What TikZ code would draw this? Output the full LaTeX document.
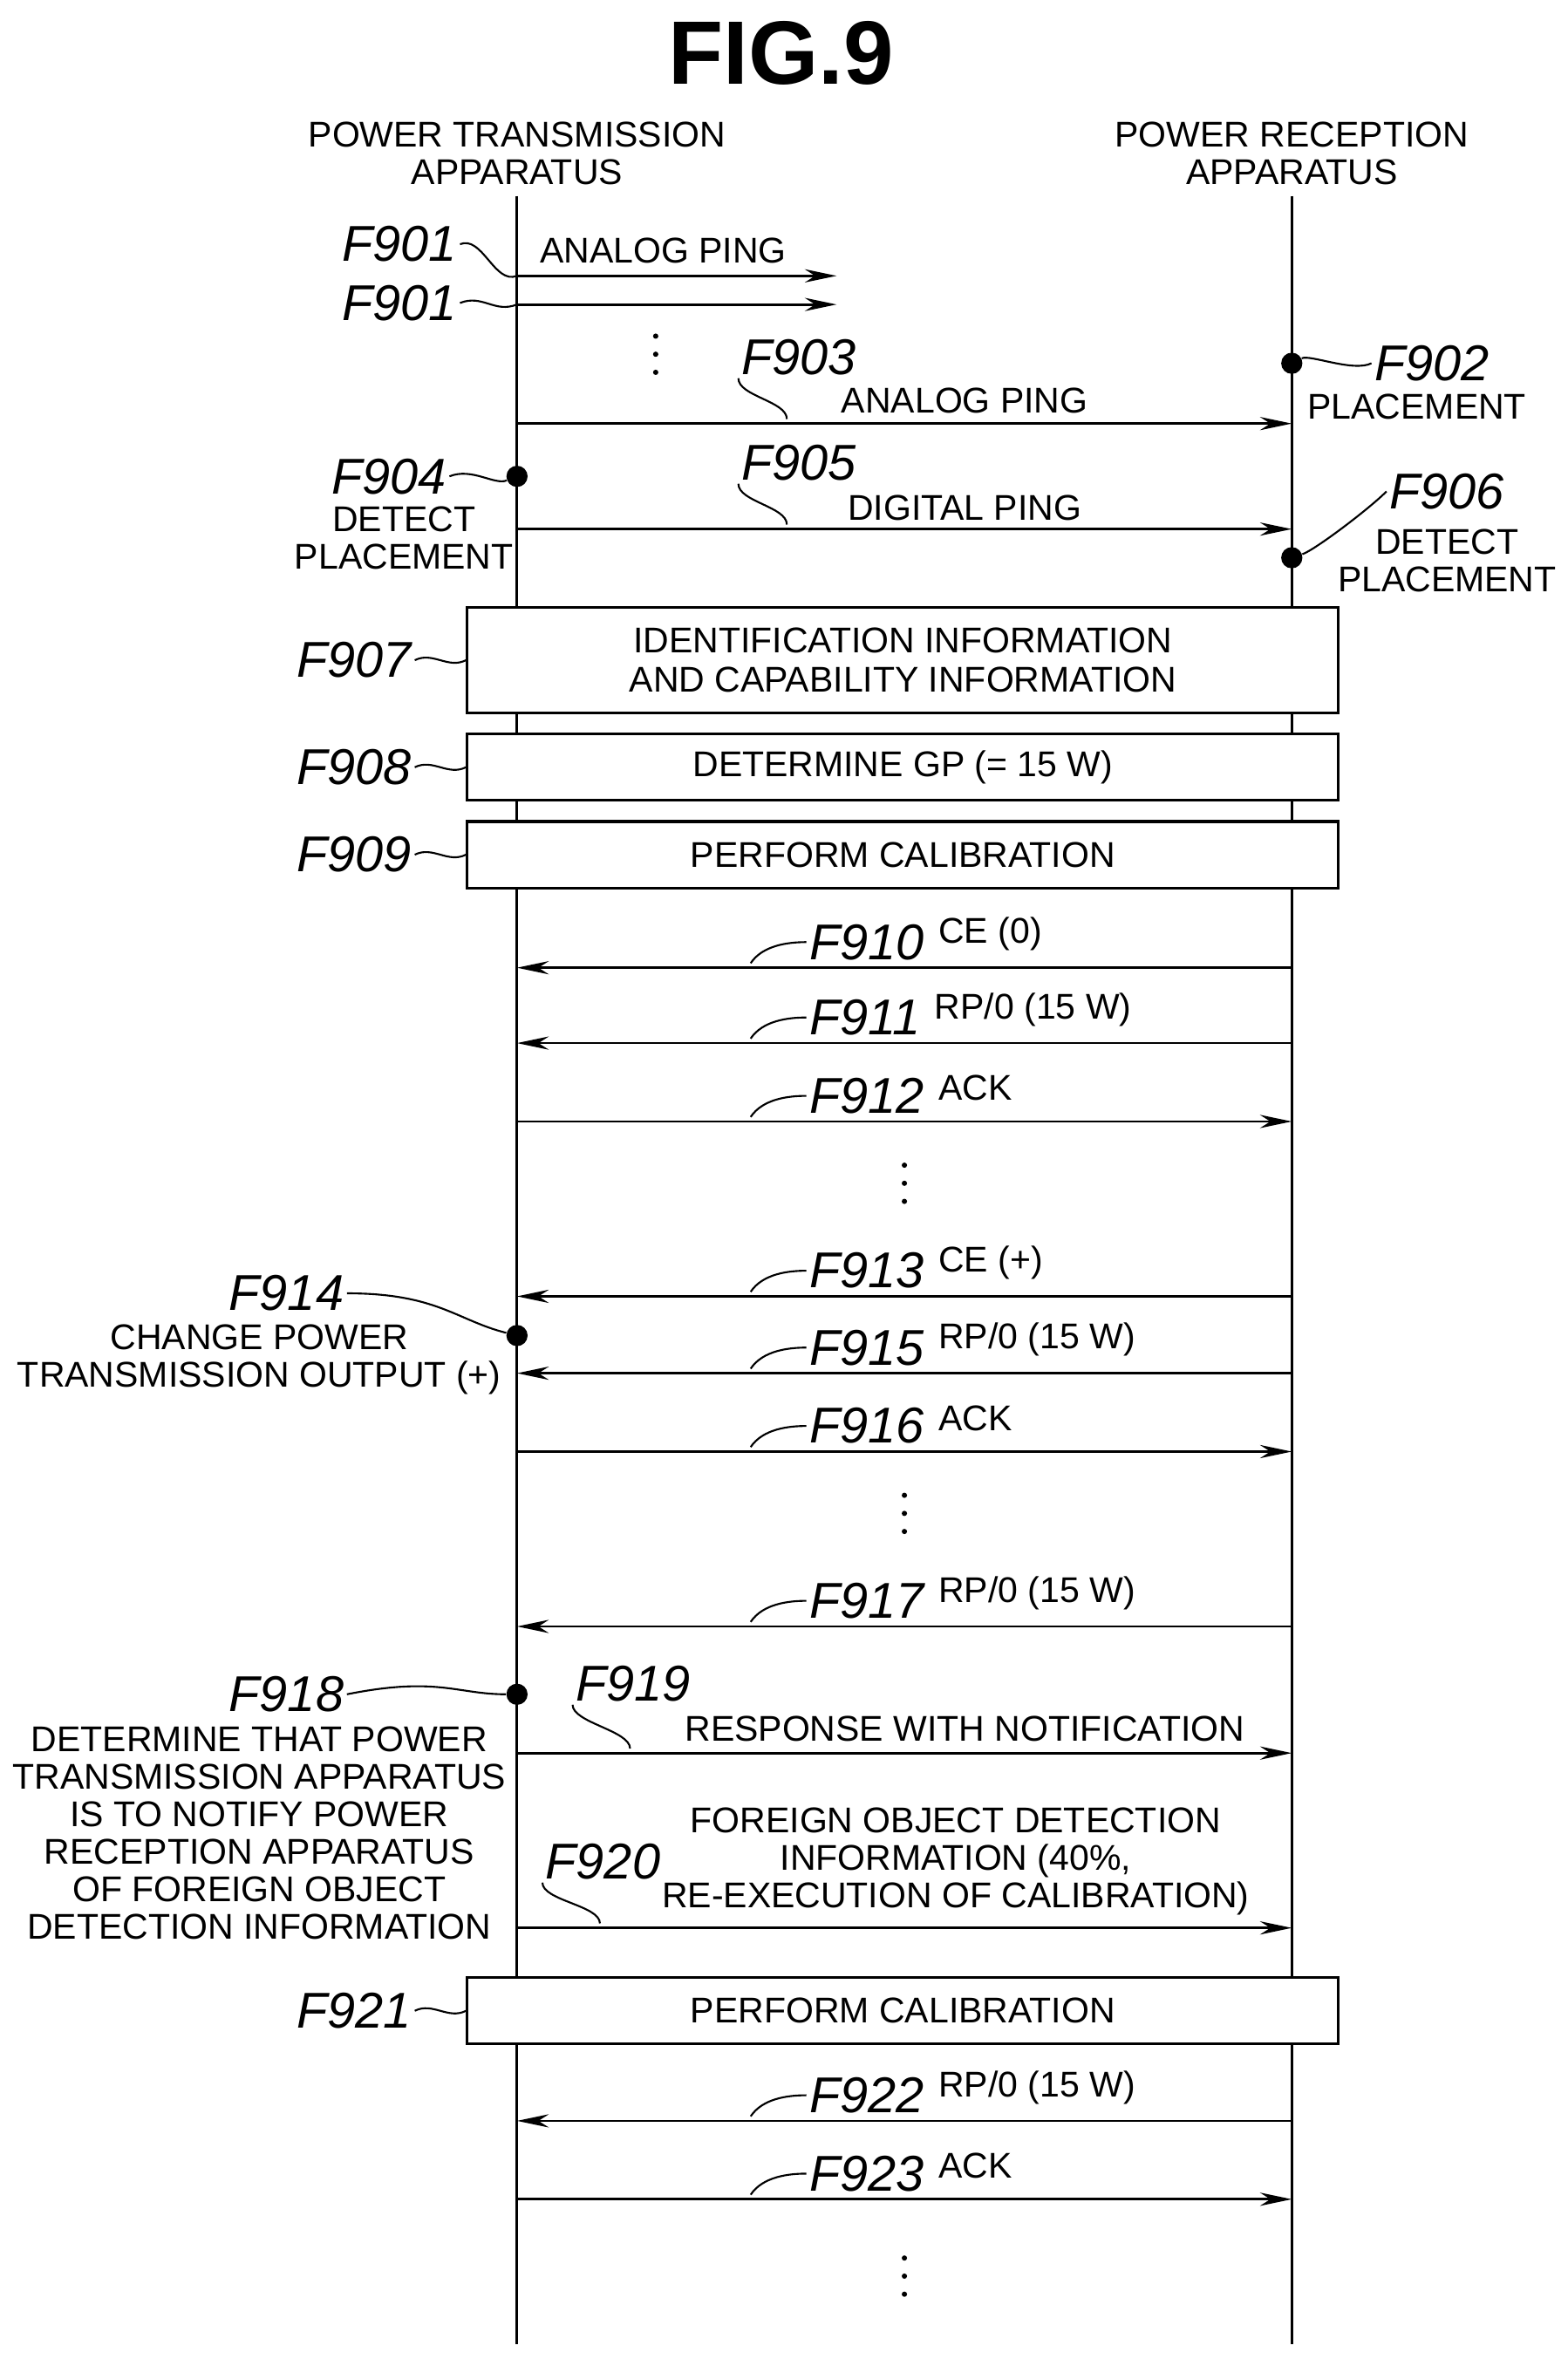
\documentclass[tikz,border=0pt]{standalone}
\usepackage{fontspec}
\setmainfont{Liberation Sans}
\usetikzlibrary{arrows.meta}
\begin{document}
\begin{tikzpicture}[x=0.02cm,y=-0.02cm,
  lbl/.style={font=\fontsize{13.5}{14.2}\selectfont, inner sep=1pt},
  fl/.style={font=\itshape\fontsize{19}{20}\selectfont, inner sep=1pt},
  msg/.style={line width=0.9pt,-{Stealth[length=12pt,width=5pt]}},
  life/.style={line width=1pt},
  box/.style={draw,line width=1pt,fill=white,minimum width=578*0.02cm,align=center,font=\fontsize{13.5}{15}\selectfont},
  lead/.style={line width=0.7pt},
  dotm/.style={circle,fill=black,inner sep=0pt,minimum size=8pt},
  sdot/.style={circle,fill=black,inner sep=0pt,minimum size=2pt}]
\useasboundingbox (0,0) rectangle (1040,1565);
\node[font=\bfseries\fontsize{34}{36}\selectfont] (title) at (518,35) {FIG.9};
\node[lbl,align=center] (ht) at (343,102) {POWER TRANSMISSION\\APPARATUS};
\node[lbl,align=center] (hr) at (857,102) {POWER RECEPTION\\APPARATUS};
\coordinate (Lt) at (343,130); \coordinate (Lb) at (343,1555);
\coordinate (Rt) at (857,130); \coordinate (Rb) at (857,1555);
\draw[life] (Lt) -- (Lb); \draw[life] (Rt) -- (Rb);
% vertical dots
\foreach \x/\y in {435/235, 600/785, 600/1004, 600/1510}{
  \node[sdot] at (\x,\y-12) {}; \node[sdot] at (\x,\y) {}; \node[sdot] at (\x,\y+12) {};
}
% F901
\coordinate (a1) at (343,183); \coordinate (b1) at (555,183);
\coordinate (a2) at (343,202); \coordinate (b2) at (555,202);
\draw[msg] (a1) -- (b1); \draw[msg] (a2) -- (b2);
\node[lbl] (t901) at (440,166) {ANALOG PING};
\node[fl] (f901a) at (265,162) {F901};
\node[fl] (f901b) at (265,201) {F901};
\draw[lead] (f901a.east) .. controls +(15,-6) and +(-15,6) .. (a1);
\draw[lead] (f901b.east) .. controls +(15,-6) and +(-15,6) .. (a2);
% F902/F903
\coordinate (a3) at (343,281); \coordinate (b3) at (857,281);
\draw[msg] (a3) -- (b3);
\node[lbl] (t903) at (640,266) {ANALOG PING};
\node[fl] (f903) at (530,237) {F903};
\coordinate (c3) at (522,278);
\draw[lead] (f903.south west) .. controls +(0,12) and +(0,-12) .. (c3);
\node[dotm] (p902) at (857,241) {};
\node[fl] (f902) at (950,241) {F902};
\draw[lead] (p902) .. controls +(12,-6) and +(-12,6) .. (f902.west);
\node[lbl] (t902) at (940,270) {PLACEMENT};
% F904/F905/F906
\node[dotm] (p904) at (343,316) {};
\node[fl] (f904) at (258,316) {F904};
\draw[lead] (f904.east) .. controls +(15,-6) and +(-15,6) .. (p904);
\node[lbl,align=center] (t904) at (268,357) {DETECT\\PLACEMENT};
\coordinate (a5) at (343,351); \coordinate (b5) at (857,351);
\draw[msg] (a5) -- (b5);
\node[lbl] (t905) at (640,337) {DIGITAL PING};
\node[fl] (f905) at (530,307) {F905};
\coordinate (c5) at (522,348);
\draw[lead] (f905.south west) .. controls +(0,12) and +(0,-12) .. (c5);
\node[dotm] (p906) at (857,370) {};
\node[fl] (f906) at (960,326) {F906};
\draw[lead] (p906) .. controls +(15,-5) and +(-12,12) .. (f906.west);
\node[lbl,align=center] (t906) at (960,372) {DETECT\\PLACEMENT};
% boxes
\node[box,minimum height=70*0.02cm] (b907) at (599,438) {IDENTIFICATION INFORMATION\\AND CAPABILITY INFORMATION};
\node[box,minimum height=44*0.02cm] (b908) at (599,509) {DETERMINE GP (= 15 W)};
\node[box,minimum height=44*0.02cm] (b909) at (599,567) {PERFORM CALIBRATION};
\node[box,minimum height=44*0.02cm] (b921) at (599,1334) {PERFORM CALIBRATION};
\node[fl] (f907) at (235,438) {F907};
\node[fl] (f908) at (235,509) {F908};
\node[fl] (f909) at (235,567) {F909};
\node[fl] (f921) at (235,1334) {F921};
\foreach \f/\b in {f907/b907,f908/b908,f909/b909,f921/b921}
  \draw[lead] (\f.east) .. controls +(12,-6) and +(-12,6) .. (\b.west);
% messages with labels
\foreach \nm/\y/\txt/\dir in {910/642/{CE (0)}/l, 911/692/{RP/0 (15 W)}/l, 912/744/{ACK}/r, 913/860/{CE (+)}/l, 915/911/{RP/0 (15 W)}/l, 916/963/{ACK}/r, 917/1079/{RP/0 (15 W)}/l, 922/1407/{RP/0 (15 W)}/l, 923/1459/{ACK}/r}{
  \coordinate (L\nm) at (343,\y); \coordinate (R\nm) at (857,\y);
  \if\dir l \draw[msg] (R\nm) -- (L\nm); \else \draw[msg] (L\nm) -- (R\nm); \fi
  \node[fl,anchor=west] (f\nm) at (535,\y-17) {F\nm};
  \node[lbl,anchor=west] (t\nm) at ([xshift=3pt,yshift=3pt]f\nm.east) {\txt};
  \coordinate (c\nm) at (498,\y-3);
  \draw[lead] (c\nm) .. controls +(8,-12) and +(-12,0) .. (f\nm.west);
}
% F914
\node[dotm] (p914) at (343,886) {};
\node[fl] (f914) at (190,858) {F914};
\draw[lead] (f914.east) .. controls +(60,0) and +(-40,-10) .. (p914);
\node[lbl,align=center] (t914) at (172,902) {CHANGE POWER\\TRANSMISSION OUTPUT (+)};
% F918-F920
\node[dotm] (p918) at (343,1124) {};
\node[fl] (f918) at (190,1124) {F918};
\draw[lead] (f918.east) .. controls +(60,-12) and +(-40,0) .. (p918);
\node[lbl,align=center] (t918) at (172,1216) {DETERMINE THAT POWER\\TRANSMISSION APPARATUS\\IS TO NOTIFY POWER\\RECEPTION APPARATUS\\OF FOREIGN OBJECT\\DETECTION INFORMATION};
\coordinate (a19) at (343,1163); \coordinate (b19) at (857,1163);
\draw[msg] (a19) -- (b19);
\node[lbl] (t919) at (640,1147) {RESPONSE WITH NOTIFICATION};
\node[fl] (f919) at (420,1117) {F919};
\coordinate (c19) at (418,1160);
\draw[lead] (f919.south west) .. controls +(0,12) and +(0,-12) .. (c19);
\coordinate (a20) at (343,1279); \coordinate (b20) at (857,1279);
\draw[msg] (a20) -- (b20);
\node[lbl,align=center] (t920) at (634,1235) {FOREIGN OBJECT DETECTION\\INFORMATION (40\%,\\RE-EXECUTION OF CALIBRATION)};
\node[fl] (f920) at (400,1235) {F920};
\coordinate (c20) at (398,1276);
\draw[lead] (f920.south west) .. controls +(0,12) and +(0,-12) .. (c20);
\end{tikzpicture}
\end{document}
